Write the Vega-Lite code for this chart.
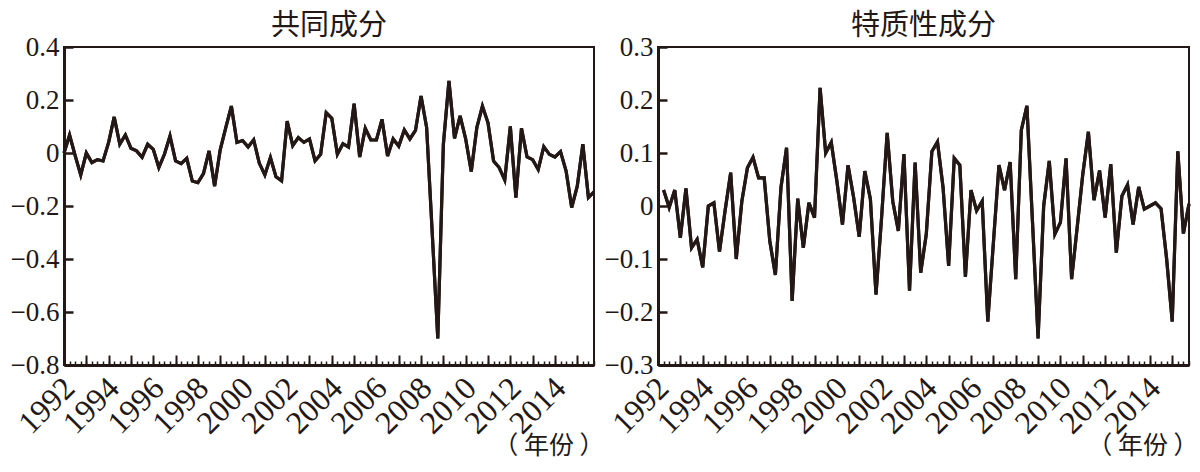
{
  "$schema": "https://vega.github.io/schema/vega-lite/v6.json",
  "padding": {"left": 5, "top": 11, "right": 5, "bottom": 5},
  "background": "white",
  "bounds": "flush",
  "spacing": 64,
  "config": {
    "view": {"stroke": "#231815", "strokeWidth": 2},
    "font": "Liberation Serif",
    "title": {"font": "Noto Sans CJK SC", "fontSize": 29, "fontWeight": "normal", "color": "#231815", "offset": -8},
    "axis": {"labelFont": "Liberation Serif", "labelFontSize": 27, "labelColor": "#231815", "tickColor": "#231815", "domainColor": "#231815", "grid": false, "labelOverlap": false, "labelFlush": false}
  },
  "datasets": {
    "common": [
      {"t": 1991, "v": 0.0}, {"t": 1991.25, "v": 0.068}, {"t": 1991.5, "v": -0.01}, {"t": 1991.75, "v": -0.083},
      {"t": 1992, "v": 0.0}, {"t": 1992.25, "v": -0.036}, {"t": 1992.5, "v": -0.025}, {"t": 1992.75, "v": -0.03},
      {"t": 1993, "v": 0.04}, {"t": 1993.25, "v": 0.136}, {"t": 1993.5, "v": 0.033}, {"t": 1993.75, "v": 0.068},
      {"t": 1994, "v": 0.018}, {"t": 1994.25, "v": 0.008}, {"t": 1994.5, "v": -0.016}, {"t": 1994.75, "v": 0.033},
      {"t": 1995, "v": 0.014}, {"t": 1995.25, "v": -0.055}, {"t": 1995.5, "v": -0.005}, {"t": 1995.75, "v": 0.064},
      {"t": 1996, "v": -0.03}, {"t": 1996.25, "v": -0.04}, {"t": 1996.5, "v": -0.02}, {"t": 1996.75, "v": -0.106},
      {"t": 1997, "v": -0.112}, {"t": 1997.25, "v": -0.078}, {"t": 1997.5, "v": 0.008}, {"t": 1997.75, "v": -0.125},
      {"t": 1998, "v": 0.012}, {"t": 1998.25, "v": 0.096}, {"t": 1998.5, "v": 0.177}, {"t": 1998.75, "v": 0.04},
      {"t": 1999, "v": 0.047}, {"t": 1999.25, "v": 0.023}, {"t": 1999.5, "v": 0.05}, {"t": 1999.75, "v": -0.038},
      {"t": 2000, "v": -0.083}, {"t": 2000.25, "v": -0.017}, {"t": 2000.5, "v": -0.09}, {"t": 2000.75, "v": -0.105},
      {"t": 2001, "v": 0.12}, {"t": 2001.25, "v": 0.028}, {"t": 2001.5, "v": 0.058}, {"t": 2001.75, "v": 0.04},
      {"t": 2002, "v": 0.053}, {"t": 2002.25, "v": -0.03}, {"t": 2002.5, "v": -0.005}, {"t": 2002.75, "v": 0.152},
      {"t": 2003, "v": 0.131}, {"t": 2003.25, "v": -0.005}, {"t": 2003.5, "v": 0.035}, {"t": 2003.75, "v": 0.022},
      {"t": 2004, "v": 0.186}, {"t": 2004.25, "v": -0.015}, {"t": 2004.5, "v": 0.093}, {"t": 2004.75, "v": 0.049},
      {"t": 2005, "v": 0.049}, {"t": 2005.25, "v": 0.127}, {"t": 2005.5, "v": -0.011}, {"t": 2005.75, "v": 0.053},
      {"t": 2006, "v": 0.026}, {"t": 2006.25, "v": 0.087}, {"t": 2006.5, "v": 0.053}, {"t": 2006.75, "v": 0.085},
      {"t": 2007, "v": 0.215}, {"t": 2007.25, "v": 0.096}, {"t": 2007.5, "v": -0.3}, {"t": 2007.75, "v": -0.7},
      {"t": 2008, "v": 0.033}, {"t": 2008.25, "v": 0.272}, {"t": 2008.5, "v": 0.055}, {"t": 2008.75, "v": 0.14},
      {"t": 2009, "v": 0.053}, {"t": 2009.25, "v": -0.07}, {"t": 2009.5, "v": 0.096}, {"t": 2009.75, "v": 0.177},
      {"t": 2010, "v": 0.114}, {"t": 2010.25, "v": -0.03}, {"t": 2010.5, "v": -0.055}, {"t": 2010.75, "v": -0.102},
      {"t": 2011, "v": 0.1}, {"t": 2011.25, "v": -0.168}, {"t": 2011.5, "v": 0.093}, {"t": 2011.75, "v": -0.015},
      {"t": 2012, "v": -0.025}, {"t": 2012.25, "v": -0.062}, {"t": 2012.5, "v": 0.024}, {"t": 2012.75, "v": -0.005},
      {"t": 2013, "v": -0.015}, {"t": 2013.25, "v": 0.005}, {"t": 2013.5, "v": -0.068}, {"t": 2013.75, "v": -0.206},
      {"t": 2014, "v": -0.125}, {"t": 2014.25, "v": 0.033}, {"t": 2014.5, "v": -0.168}, {"t": 2014.75, "v": -0.147}
    ],
    "idio": [
      {"t": 1991.25, "v": 0.03}, {"t": 1991.5, "v": -0.003}, {"t": 1991.75, "v": 0.03},
      {"t": 1992, "v": -0.06}, {"t": 1992.25, "v": 0.033}, {"t": 1992.5, "v": -0.079}, {"t": 1992.75, "v": -0.063},
      {"t": 1993, "v": -0.116}, {"t": 1993.25, "v": 0.0}, {"t": 1993.5, "v": 0.006}, {"t": 1993.75, "v": -0.086},
      {"t": 1994, "v": -0.009}, {"t": 1994.25, "v": 0.063}, {"t": 1994.5, "v": -0.1}, {"t": 1994.75, "v": 0.009},
      {"t": 1995, "v": 0.072}, {"t": 1995.25, "v": 0.092}, {"t": 1995.5, "v": 0.053}, {"t": 1995.75, "v": 0.053},
      {"t": 1996, "v": -0.066}, {"t": 1996.25, "v": -0.13}, {"t": 1996.5, "v": 0.035}, {"t": 1996.75, "v": 0.11},
      {"t": 1997, "v": -0.179}, {"t": 1997.25, "v": 0.014}, {"t": 1997.5, "v": -0.079}, {"t": 1997.75, "v": 0.006},
      {"t": 1998, "v": -0.022}, {"t": 1998.25, "v": 0.223}, {"t": 1998.5, "v": 0.1}, {"t": 1998.75, "v": 0.12},
      {"t": 1999, "v": 0.047}, {"t": 1999.25, "v": -0.035}, {"t": 1999.5, "v": 0.077}, {"t": 1999.75, "v": 0.016},
      {"t": 2000, "v": -0.058}, {"t": 2000.25, "v": 0.066}, {"t": 2000.5, "v": 0.013}, {"t": 2000.75, "v": -0.167},
      {"t": 2001, "v": -0.022}, {"t": 2001.25, "v": 0.138}, {"t": 2001.5, "v": 0.009}, {"t": 2001.75, "v": -0.047},
      {"t": 2002, "v": 0.098}, {"t": 2002.25, "v": -0.16}, {"t": 2002.5, "v": 0.082}, {"t": 2002.75, "v": -0.126},
      {"t": 2003, "v": -0.053}, {"t": 2003.25, "v": 0.103}, {"t": 2003.5, "v": 0.121}, {"t": 2003.75, "v": 0.035},
      {"t": 2004, "v": -0.113}, {"t": 2004.25, "v": 0.09}, {"t": 2004.5, "v": 0.077}, {"t": 2004.75, "v": -0.134},
      {"t": 2005, "v": 0.03}, {"t": 2005.25, "v": -0.009}, {"t": 2005.5, "v": 0.009}, {"t": 2005.75, "v": -0.218},
      {"t": 2006, "v": -0.07}, {"t": 2006.25, "v": 0.077}, {"t": 2006.5, "v": 0.03}, {"t": 2006.75, "v": 0.083},
      {"t": 2007, "v": -0.138}, {"t": 2007.25, "v": 0.143}, {"t": 2007.5, "v": 0.189}, {"t": 2007.75, "v": -0.03},
      {"t": 2008, "v": -0.25}, {"t": 2008.25, "v": 0.0}, {"t": 2008.5, "v": 0.085}, {"t": 2008.75, "v": -0.053},
      {"t": 2009, "v": -0.031}, {"t": 2009.25, "v": 0.09}, {"t": 2009.5, "v": -0.138}, {"t": 2009.75, "v": -0.04},
      {"t": 2010, "v": 0.06}, {"t": 2010.25, "v": 0.14}, {"t": 2010.5, "v": 0.011}, {"t": 2010.75, "v": 0.067},
      {"t": 2011, "v": -0.022}, {"t": 2011.25, "v": 0.079}, {"t": 2011.5, "v": -0.088}, {"t": 2011.75, "v": 0.019},
      {"t": 2012, "v": 0.04}, {"t": 2012.25, "v": -0.035}, {"t": 2012.5, "v": 0.036}, {"t": 2012.75, "v": -0.006},
      {"t": 2013, "v": 0.0}, {"t": 2013.25, "v": 0.006}, {"t": 2013.5, "v": -0.005}, {"t": 2013.75, "v": -0.1},
      {"t": 2014, "v": -0.218}, {"t": 2014.25, "v": 0.103}, {"t": 2014.5, "v": -0.052}, {"t": 2014.75, "v": 0.004}
    ]
  },
  "hconcat": [
    {
      "title": "共同成分",
      "width": 530,
      "height": 318,
      "data": {"name": "common"},
      "resolve": {"axis": {"x": "independent"}},
      "layer": [
        {
          "mark": {"type": "line", "color": "#231815", "strokeWidth": 3.2},
          "encoding": {
            "x": {"field": "t", "type": "quantitative", "scale": {"domain": [1991, 2014.75], "nice": false, "zero": false},
              "axis": {"orient": "bottom", "values": [1991,1992,1993,1994,1995,1996,1997,1998,1999,2000,2001,2002,2003,2004,2005,2006,2007,2008,2009,2010,2011,2012,2013,2014],
                "tickSize": -10, "tickWidth": 2, "domainWidth": 3, "labelAngle": -45, "format": "d", "labelFontSize": 32, "labelOffset": -28,
                "labelExpr": "datum.value % 2 == 0 ? datum.label : ''", "labelPadding": 17,
                "title": "（ 年份 ）", "titleFont": "Noto Sans CJK SC", "titleFontSize": 25, "titleFontWeight": "normal", "titleColor": "#231815",
                "titleAnchor": "end", "titleAlign": "right", "titleBaseline": "middle", "titleX": 540, "titleY": 80}},
            "y": {"field": "v", "type": "quantitative", "scale": {"domain": [-0.8, 0.4], "nice": false, "zero": false},
              "axis": {"values": [-0.8,-0.6,-0.4,-0.2,0,0.2,0.4], "format": ".1~f", "tickSize": -9, "tickWidth": 2.5, "domainWidth": 3, "labelPadding": 14, "title": null, "minExtent": 58, "maxExtent": 58}}
          }
        },
        {
          "mark": {"type": "line", "color": "#231815", "strokeWidth": 3.2},
          "encoding": {
            "x": {"field": "t", "type": "quantitative", "scale": {"domain": [1991, 2014.75], "nice": false, "zero": false},
              "axis": {"orient": "bottom", "values": [1991,1991.25,1991.5,1991.75,1992,1992.25,1992.5,1992.75,1993,1993.25,1993.5,1993.75,1994,1994.25,1994.5,1994.75,1995,1995.25,1995.5,1995.75,1996,1996.25,1996.5,1996.75,1997,1997.25,1997.5,1997.75,1998,1998.25,1998.5,1998.75,1999,1999.25,1999.5,1999.75,2000,2000.25,2000.5,2000.75,2001,2001.25,2001.5,2001.75,2002,2002.25,2002.5,2002.75,2003,2003.25,2003.5,2003.75,2004,2004.25,2004.5,2004.75,2005,2005.25,2005.5,2005.75,2006,2006.25,2006.5,2006.75,2007,2007.25,2007.5,2007.75,2008,2008.25,2008.5,2008.75,2009,2009.25,2009.5,2009.75,2010,2010.25,2010.5,2010.75,2011,2011.25,2011.5,2011.75,2012,2012.25,2012.5,2012.75,2013,2013.25,2013.5,2013.75,2014,2014.25,2014.5,2014.75],
                "tickSize": -4, "tickWidth": 1.5, "domain": false, "labels": false, "title": null}},
            "y": {"field": "v", "type": "quantitative", "scale": {"domain": [-0.8, 0.4], "nice": false, "zero": false},
              "axis": {"values": [-0.8,-0.6,-0.4,-0.2,0,0.2,0.4], "format": ".1~f", "tickSize": -9, "tickWidth": 2.5, "domainWidth": 3, "labelPadding": 14, "title": null, "minExtent": 58, "maxExtent": 58}}
          }
        }
      ]
    },
    {
      "title": "特质性成分",
      "width": 531,
      "height": 318,
      "data": {"name": "idio"},
      "resolve": {"axis": {"x": "independent"}},
      "layer": [
        {
          "mark": {"type": "line", "color": "#231815", "strokeWidth": 3.2},
          "encoding": {
            "x": {"field": "t", "type": "quantitative", "scale": {"domain": [1991, 2014.75], "nice": false, "zero": false},
              "axis": {"orient": "bottom", "values": [1991,1992,1993,1994,1995,1996,1997,1998,1999,2000,2001,2002,2003,2004,2005,2006,2007,2008,2009,2010,2011,2012,2013,2014],
                "tickSize": -10, "tickWidth": 2, "domainWidth": 3, "labelAngle": -45, "format": "d", "labelFontSize": 32, "labelOffset": -28,
                "labelExpr": "datum.value % 2 == 0 ? datum.label : ''", "labelPadding": 17,
                "title": "（ 年份 ）", "titleFont": "Noto Sans CJK SC", "titleFontSize": 25, "titleFontWeight": "normal", "titleColor": "#231815",
                "titleAnchor": "end", "titleAlign": "right", "titleBaseline": "middle", "titleX": 540, "titleY": 80}},
            "y": {"field": "v", "type": "quantitative", "scale": {"domain": [-0.3, 0.3], "nice": false, "zero": false},
              "axis": {"values": [-0.3,-0.2,-0.1,0,0.1,0.2,0.3], "format": ".1~f", "tickSize": -9, "tickWidth": 2.5, "domainWidth": 3, "labelPadding": 14, "title": null, "minExtent": 58, "maxExtent": 58}}
          }
        },
        {
          "mark": {"type": "line", "color": "#231815", "strokeWidth": 3.2},
          "encoding": {
            "x": {"field": "t", "type": "quantitative", "scale": {"domain": [1991, 2014.75], "nice": false, "zero": false},
              "axis": {"orient": "bottom", "values": [1991,1991.25,1991.5,1991.75,1992,1992.25,1992.5,1992.75,1993,1993.25,1993.5,1993.75,1994,1994.25,1994.5,1994.75,1995,1995.25,1995.5,1995.75,1996,1996.25,1996.5,1996.75,1997,1997.25,1997.5,1997.75,1998,1998.25,1998.5,1998.75,1999,1999.25,1999.5,1999.75,2000,2000.25,2000.5,2000.75,2001,2001.25,2001.5,2001.75,2002,2002.25,2002.5,2002.75,2003,2003.25,2003.5,2003.75,2004,2004.25,2004.5,2004.75,2005,2005.25,2005.5,2005.75,2006,2006.25,2006.5,2006.75,2007,2007.25,2007.5,2007.75,2008,2008.25,2008.5,2008.75,2009,2009.25,2009.5,2009.75,2010,2010.25,2010.5,2010.75,2011,2011.25,2011.5,2011.75,2012,2012.25,2012.5,2012.75,2013,2013.25,2013.5,2013.75,2014,2014.25,2014.5,2014.75],
                "tickSize": -4, "tickWidth": 1.5, "domain": false, "labels": false, "title": null}},
            "y": {"field": "v", "type": "quantitative", "scale": {"domain": [-0.3, 0.3], "nice": false, "zero": false},
              "axis": {"values": [-0.3,-0.2,-0.1,0,0.1,0.2,0.3], "format": ".1~f", "tickSize": -9, "tickWidth": 2.5, "domainWidth": 3, "labelPadding": 14, "title": null, "minExtent": 58, "maxExtent": 58}}
          }
        }
      ]
    }
  ]
}
